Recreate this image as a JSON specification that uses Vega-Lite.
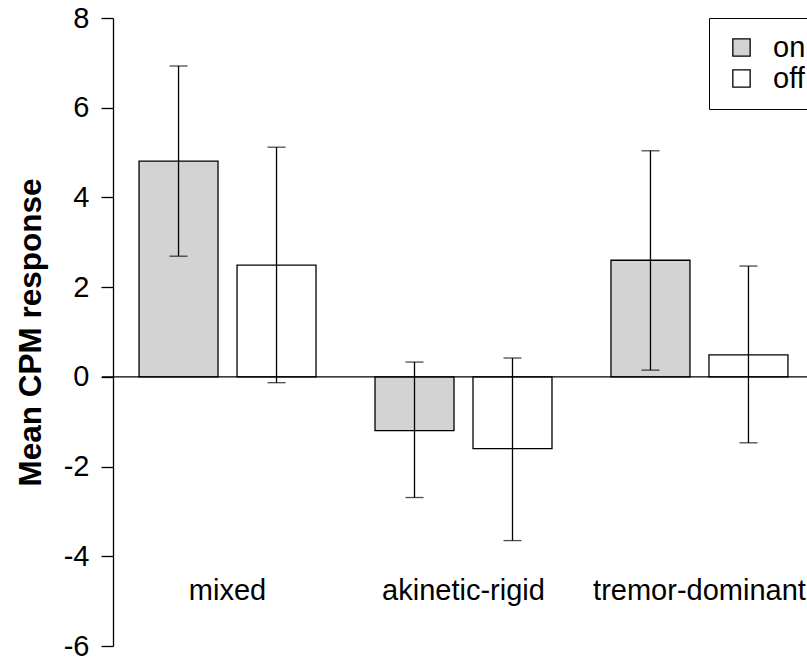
{
  "$schema": "https://vega.github.io/schema/vega-lite/v6.json",
  "autosize": "none",
  "width": 723,
  "height": 628,
  "padding": {"left": 102, "top": 18, "right": 0, "bottom": 13},
  "background": "white",
  "config": {
    "font": "Liberation Sans",
    "view": {"stroke": null},
    "axis": {"grid": false}
  },
  "data": {
    "values": [
      {"group": "mixed", "cond": "on", "mean": 4.81, "lo": 2.69, "hi": 6.93},
      {"group": "mixed", "cond": "off", "mean": 2.49, "lo": -0.13, "hi": 5.12},
      {"group": "akinetic-rigid", "cond": "on", "mean": -1.2, "lo": -2.69, "hi": 0.33},
      {"group": "akinetic-rigid", "cond": "off", "mean": -1.6, "lo": -3.65, "hi": 0.42},
      {"group": "tremor-dominant", "cond": "on", "mean": 2.6, "lo": 0.15, "hi": 5.04},
      {"group": "tremor-dominant", "cond": "off", "mean": 0.49, "lo": -1.47, "hi": 2.47}
    ]
  },
  "encoding": {
    "x": {
      "field": "group",
      "type": "nominal",
      "sort": ["mixed", "akinetic-rigid", "tremor-dominant"],
      "scale": {"paddingInner": 0.25, "paddingOuter": 0.157},
      "axis": {
        "title": null,
        "orient": "bottom",
        "offset": -70,
        "domain": false,
        "ticks": false,
        "labelPadding": 0,
        "labelAngle": 0,
        "labelLimit": 0,
        "labelOverlap": false,
        "labelBound": false,
        "labelFontSize": 29,
        "labelColor": "black",
        "labelFont": "Liberation Sans"
      }
    },
    "xOffset": {
      "field": "cond",
      "type": "nominal",
      "sort": ["on", "off"],
      "scale": {"paddingInner": 0.194, "paddingOuter": 0}
    }
  },
  "layer": [
    {
      "mark": {"type": "bar", "stroke": "black", "strokeWidth": 1.3},
      "encoding": {
        "y": {
          "field": "mean",
          "type": "quantitative",
          "scale": {"domain": [-6, 8], "nice": false, "zero": false},
          "axis": {
            "title": "Mean CPM response",
            "titleFontSize": 31.5,
            "titleFontWeight": "bold",
            "titleColor": "black",
            "titleFont": "Liberation Sans",
            "titlePadding": 16,
            "offset": -11,
            "values": [-6, -4, -2, 0, 2, 4, 6, 8],
            "labelExpr": "'' + datum.value",
            "tickSize": 12,
            "tickColor": "black",
            "tickWidth": 1.3,
            "domainColor": "black",
            "domainWidth": 1.3,
            "labelFontSize": 29,
            "labelColor": "black",
            "labelPadding": 12,
            "labelFont": "Liberation Sans"
          }
        },
        "y2": {"datum": 0},
        "fill": {
          "field": "cond",
          "type": "nominal",
          "scale": {"domain": ["on", "off"], "range": ["#d3d3d3", "#ffffff"]},
          "legend": {
            "title": null,
            "orient": "none",
            "legendX": 607,
            "legendY": 0,
            "strokeColor": "black",
            "padding": 15,
            "symbolOffset": 3,
            "symbolType": "square",
            "symbolSize": 300,
            "symbolStrokeColor": "black",
            "symbolStrokeWidth": 1.3,
            "labelFontSize": 29,
            "labelColor": "black",
            "labelFont": "Liberation Sans",
            "labelOffset": 17,
            "rowPadding": 1
          }
        }
      }
    },
    {
      "mark": {"type": "rule", "color": "black", "strokeWidth": 1.3},
      "encoding": {
        "y": {"field": "lo", "type": "quantitative"},
        "y2": {"field": "hi"}
      }
    },
    {
      "mark": {"type": "tick", "color": "black", "size": 18, "thickness": 1.3, "orient": "horizontal"},
      "encoding": {
        "y": {"field": "lo", "type": "quantitative"}
      }
    },
    {
      "mark": {"type": "tick", "color": "black", "size": 18, "thickness": 1.3, "orient": "horizontal"},
      "encoding": {
        "y": {"field": "hi", "type": "quantitative"}
      }
    },
    {
      "data": {"values": [{"zero": 0}]},
      "mark": {"type": "rule", "color": "black", "strokeWidth": 1.3},
      "encoding": {
        "x": null,
        "xOffset": null,
        "y": {"field": "zero", "type": "quantitative"}
      }
    }
  ]
}
